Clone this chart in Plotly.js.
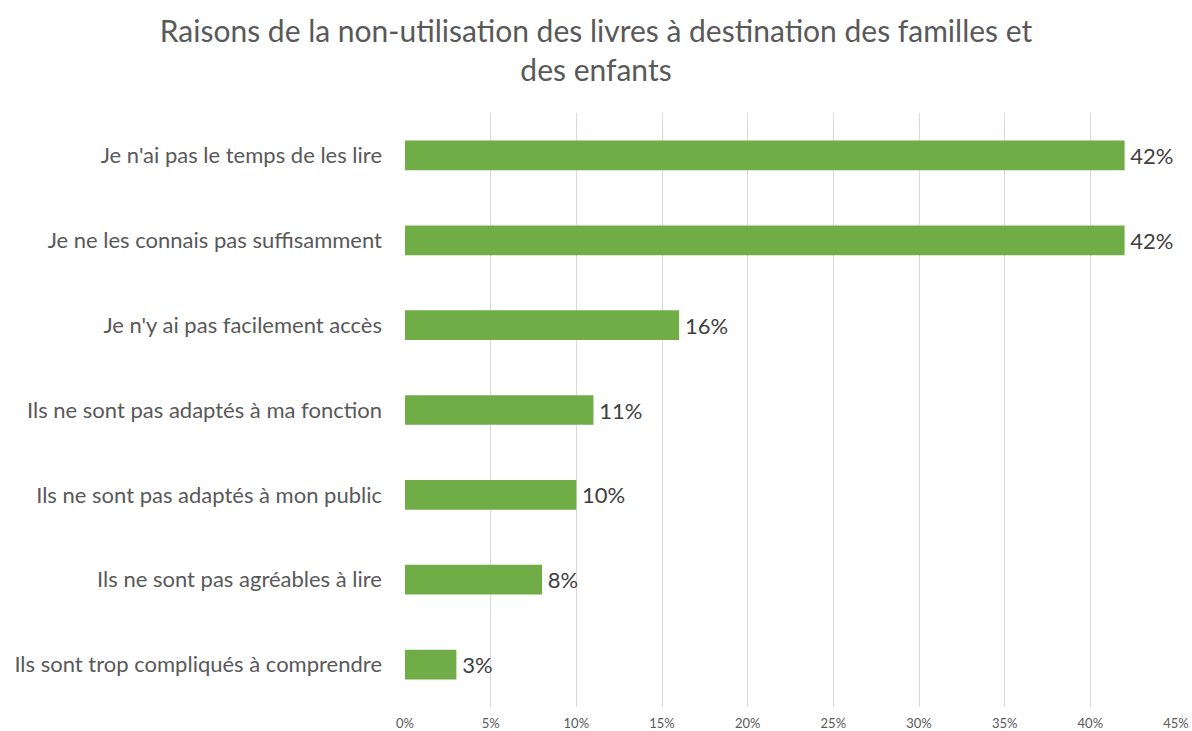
<!DOCTYPE html>
<html>
<head>
<meta charset="utf-8">
<script src="https://cdn.plot.ly/plotly-3.0.1.min.js"></script>
<style>html,body{margin:0;padding:0;background:#fff;}#chart{width:1192px;height:731px;}</style>
</head>
<body>
<div id="chart"></div>
<script>
const categories = [
  "Je n'ai pas le temps de les lire",
  "Je ne les connais pas suffisamment",
  "Je n'y ai pas facilement accès",
  "Ils ne sont pas adaptés à ma fonction",
  "Ils ne sont pas adaptés à mon public",
  "Ils ne sont pas agréables à lire",
  "Ils sont trop compliqués à comprendre"
];
const values = [42, 42, 16, 11, 10, 8, 3];
const tickValues = [0, 5, 10, 15, 20, 25, 30, 35, 40, 45];
const tickLabels = ["0%", "5%", "10%", "15%", "20%", "25%", "30%", "35%", "40%", "45%"];

const font = "Lato, 'Open Sans', sans-serif";
const textColor = "#595959";

const trace = {
  type: "bar",
  orientation: "h",
  x: values,
  y: categories,
  width: 0.35,
  marker: {color: "#70AD47"},
  text: values.map(v => "\u2009" + v + "%"),
  textposition: "outside",
  textfont: {family: font, size: 22, color: "#404040"},
  cliponaxis: false,
  hoverinfo: "skip"
};

const layout = {
  width: 1192,
  height: 731,
  margin: {l: 405, r: 16, t: 113, b: 24},
  paper_bgcolor: "#fff",
  plot_bgcolor: "#fff",
  showlegend: false,
  title: {
    text: "Raisons de la non-utilisation des livres à destination des familles et<br>des enfants",
    font: {family: font, size: 30, color: textColor},
    x: 0.5, xanchor: "center",
    y: 0.943, yanchor: "middle"
  },
  xaxis: {
    range: [0, 45],
    tickvals: tickValues,
    ticktext: tickLabels,
    showgrid: true,
    gridcolor: "#d9d9d9",
    gridwidth: 1,
    zeroline: false,
    showline: false,
    ticks: "",
    ticklabelstandoff: 7,
    tickfont: {family: font, size: 13, color: textColor}
  },
  yaxis: {
    autorange: "reversed",
    showgrid: false,
    zeroline: false,
    showline: false,
    ticks: "",
    ticklabelstandoff: 22,
    tickfont: {family: font, size: 22, color: textColor}
  },
  bargap: 0.65
};

Plotly.newPlot("chart", [trace], layout, {displayModeBar: false, staticPlot: true});
</script>
</body>
</html>
